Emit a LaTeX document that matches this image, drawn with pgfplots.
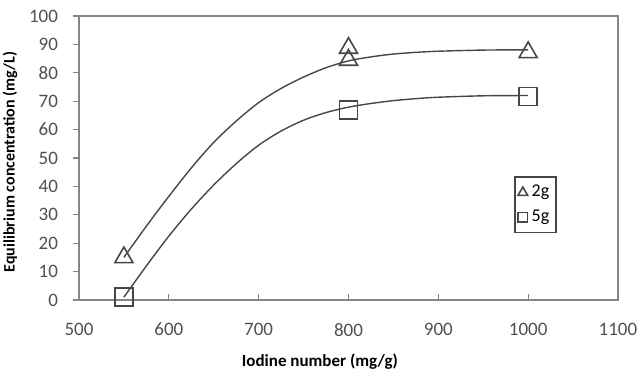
\documentclass[border=0pt]{standalone}
\usepackage{fontspec}
\setmainfont{Carlito}
\usepackage{pgfplots}
\pgfplotsset{compat=1.18}
\definecolor{axgray}{RGB}{134,134,134}
\definecolor{linegray}{RGB}{70,70,70}
\definecolor{tickgray}{RGB}{80,80,80}
\begin{document}
\begin{tikzpicture}
\path[use as bounding box] (-39.5pt,-35pt) rectangle (282.5pt,150pt);
\begin{axis}[
  at={(0,0)}, anchor=south west,
  scale only axis, width=269.5pt, height=142pt,
  xmin=500, xmax=1100, ymin=0, ymax=100,
  xtick={500,600,...,1100}, ytick={0,10,...,100},
  axis line style={axgray, line width=1pt},
  tick style={axgray, line width=0.6pt},
  xtick align=inside, ytick align=outside, major tick length=3pt,
  xtick pos=bottom, ytick pos=left,
  tick label style={font=\fontsize{9.5}{11}\selectfont, text=tickgray},
  /pgf/number format/assume math mode=true,
  /pgf/number format/1000 sep={},
  xticklabel style={yshift=-8pt},
  yticklabel style={xshift=-4pt},
  xlabel={\textbf{Iodine number (mg/g)}},
  ylabel={\textbf{Equilibrium concentration (mg/L)}},
  xlabel style={at={(axis description cs:0.447,-0.218)}, anchor=center, font=\fontsize{8.5}{10}\selectfont},
  ylabel style={at={(axis description cs:-0.128,0.486)}, anchor=center, font=\fontsize{8}{10}\selectfont},
  legend style={at={(rel axis cs:0.887,0.435)}, anchor=north east, draw=linegray, line width=0.8pt,
    font=\fontsize{9}{11}\selectfont, inner xsep=1.5pt, inner ysep=2pt, row sep=1pt},
  legend cell align=left,
]
\addplot[linegray, line width=0.7pt, smooth, forget plot] coordinates {
(550,15) (575,26) (600,36.5) (625,46.5) (650,55.5) (675,63) (700,69.5) (725,74.5) (750,78.5) (775,81.8) (800,84.2) (825,85.6) (850,86.6) (875,87.2) (900,87.6) (950,88) (1000,88.1)};
\addplot[linegray, line width=0.7pt, smooth, forget plot] coordinates {
(550,1) (575,12) (600,22.5) (625,32) (650,40.5) (675,48) (700,54.5) (725,59.5) (750,63.3) (775,66) (800,67.9) (825,69.2) (850,70.2) (875,70.9) (900,71.4) (950,71.9) (1000,72)};
\addplot[only marks, mark=triangle, mark size=5.2pt, mark options={draw=linegray, line width=0.8pt, fill=none},
  legend image code/.code={\draw[mark size=2.8pt] plot coordinates {(0.12cm,0cm)};}]
  coordinates {(550,15) (800,88.7) (800,84.5) (1000,87.2)};
\addlegendentry{2g}
\addplot[only marks, mark=square, mark size=4.5pt, mark options={draw=linegray, line width=0.8pt, fill=none},
  legend image code/.code={\draw[mark size=2.3pt] plot coordinates {(0.12cm,0cm)};}]
  coordinates {(550,1) (800,67) (1000,71.7)};
\addlegendentry{5g}
\end{axis}
\end{tikzpicture}
\end{document}
